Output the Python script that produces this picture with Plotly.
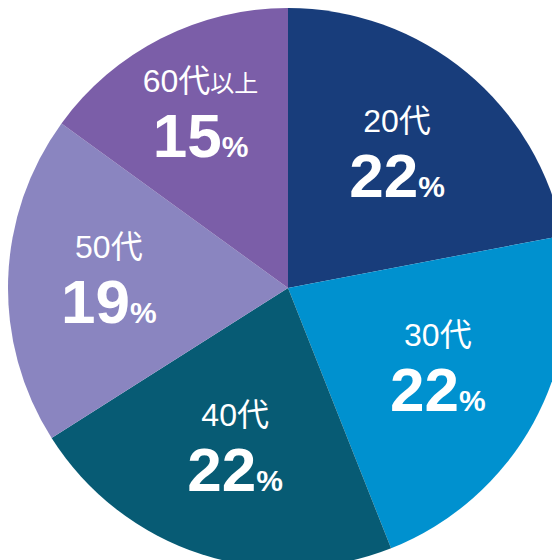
import plotly.graph_objects as go

labels = ["20代", "30代", "40代", "50代", "60代以上"]
values = [22, 22, 22, 19, 15]
colors = ["#183d7b", "#0091cf", "#075b74", "#8a85c0", "#7b5ea8"]

def lab(l):
    if l == "60代以上":
        return "<span style='font-size:32px'>60代</span><span style='font-size:24px'>以上</span>"
    return f"<span style='font-size:32px'>{l}</span>"

texts = [f"{lab(l)}<br><b><span style='font-size:62px'>{v}</span><span style='font-size:30px'>%</span></b>"
         for l, v in zip(labels, values)]

fig = go.Figure(go.Pie(
    labels=labels, values=values, text=texts, textinfo="text",
    sort=False, direction="clockwise", rotation=0,
    marker=dict(colors=colors, line=dict(width=0)),
    textfont=dict(family="Liberation Sans, Noto Sans CJK JP", size=50, color="white"),
    insidetextorientation="horizontal", textposition="inside",
    domain=dict(x=[0, 1], y=[0, 1]),
    hoverinfo="skip",
))
fig.update_layout(width=560, height=560, margin=dict(l=0, r=0, t=0, b=0),
                  showlegend=False, paper_bgcolor="white",
                  uniformtext=dict(mode=False))
fig.write_html("out.html")
